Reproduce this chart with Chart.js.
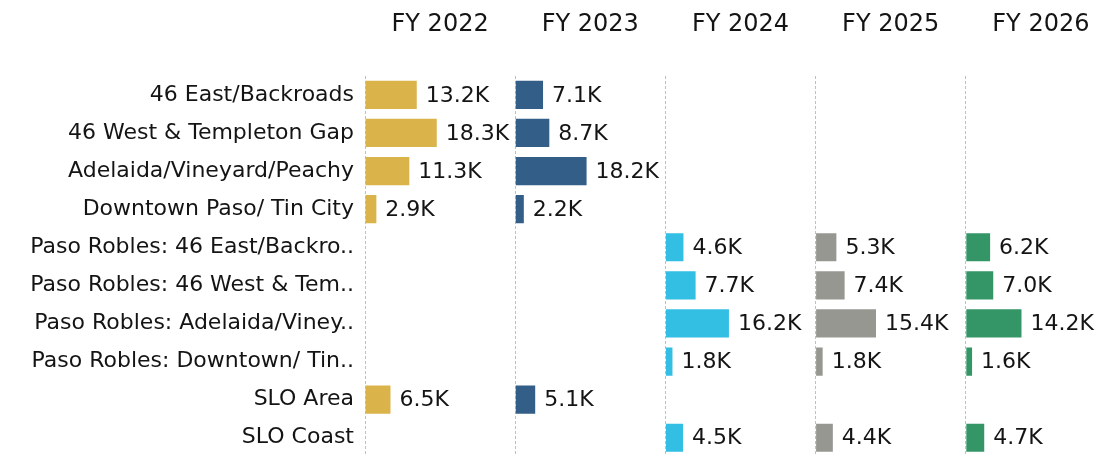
<!DOCTYPE html>
<html>
<head>
<meta charset="utf-8">
<script src="https://cdn.jsdelivr.net/npm/chart.js@4/dist/chart.umd.min.js"></script>
<style>
  html, body { margin: 0; padding: 0; background: #fff; overflow: hidden; }
  canvas { display: block; }
</style>
</head>
<body>
<canvas id="regionCanvas" width="1116" height="481"></canvas>
<script>
// Zonas (eje de categorias)
var regions = [
  "46 East/Backroads",
  "46 West & Templeton Gap",
  "Adelaida/Vineyard/Peachy",
  "Downtown Paso/ Tin City",
  "Paso Robles: 46 East/Backro..",
  "Paso Robles: 46 West & Tem..",
  "Paso Robles: Adelaida/Viney..",
  "Paso Robles: Downtown/ Tin..",
  "SLO Area",
  "SLO Coast"
];

// Años fiscales (un panel por año)
var fiscalYears = ["FY 2022", "FY 2023", "FY 2024", "FY 2025", "FY 2026"];

// Valores por año
var fy2022 = [13200, 18300, 11300, 2900, null, null, null, null, 6500, null];
var fy2023 = [7100, 8700, 18200, 2200, null, null, null, null, 5100, null];
var fy2024 = [null, null, null, null, 4600, 7700, 16200, 1800, null, 4500];
var fy2025 = [null, null, null, null, 5300, 7400, 15400, 1800, null, 4400];
var fy2026 = [null, null, null, null, 6200, 7000, 14200, 1600, null, 4700];

var yearValues = [fy2022, fy2023, fy2024, fy2025, fy2026];
var yearColors = ["#dbb34b", "#335e88", "#33bee4", "#979792", "#349667"];

var baseFont = "'DejaVu Sans', Verdana, sans-serif";

// Etiquetas de valor al final de cada barra
var valueLabels = {
  id: "valueLabels",
  afterDatasetsDraw: function (chart) {
    var ctx = chart.ctx;
    ctx.save();
    ctx.font = "22px " + baseFont;
    ctx.fillStyle = "#141414";
    ctx.textAlign = "left";
    ctx.textBaseline = "middle";
    chart.data.datasets.forEach(function (ds, i) {
      var meta = chart.getDatasetMeta(i);
      meta.data.forEach(function (bar, j) {
        var v = ds.data[j];
        if (v === null || v === undefined) return;
        ctx.fillText((v / 1000).toFixed(1) + "K", bar.x + 9, bar.y + 1);
      });
    });
    ctx.restore();
  }
};

var datasets = [];
var scales = {
  y: {
    type: "category",
    stacked: true,
    grid: { display: false, drawTicks: false },
    border: { display: false },
    ticks: {
      padding: 11,
      color: "#141414",
      font: { family: baseFont, size: 22 }
    },
    afterFit: function (scale) {
      scale.width = 365;
    }
  }
};

fiscalYears.forEach(function (year, i) {
  var axisId = "x" + i;
  datasets.push({
    label: year,
    data: yearValues[i],
    xAxisID: axisId,
    backgroundColor: yearColors[i],
    barPercentage: 0.74,
    categoryPercentage: 1.0
  });
  scales[axisId] = {
    type: "linear",
    position: "top",
    stack: "years",
    stackWeight: 1,
    weight: fiscalYears.length - i,
    min: 0,
    max: 38300,
    afterBuildTicks: function (scale) {
      scale.ticks = [{ value: 0 }];
    },
    ticks: { display: false },
    grid: {
      drawTicks: false,
      drawOnChartArea: true,
      color: "#bfbfbf",
      lineWidth: 1
    },
    border: { display: false, dash: [3, 2] },
    title: {
      display: true,
      text: year,
      color: "#141414",
      font: { family: baseFont, size: 24 },
      padding: { top: 10, bottom: 37 }
    }
  };
});

var regionChart = new Chart(document.getElementById("regionCanvas").getContext("2d"), {
  type: "bar",
  data: { labels: regions, datasets: datasets },
  options: {
    indexAxis: "y",
    responsive: false,
    animation: false,
    layout: { padding: { left: 0, right: 0, top: 0, bottom: 4 } },
    plugins: {
      legend: { display: false },
      tooltip: { enabled: false }
    },
    scales: scales
  },
  plugins: [valueLabels]
});
</script>
</body>
</html>
